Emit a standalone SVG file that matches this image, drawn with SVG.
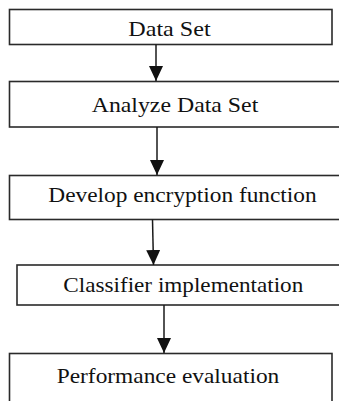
<svg xmlns="http://www.w3.org/2000/svg" width="339" height="401" viewBox="0 0 339 401">
<style>
.box{fill:#fff;stroke:#2a2a2a;stroke-width:1.6}
.lbl{font-family:"Liberation Serif","Times New Roman",serif;font-size:22px;fill:#111}
.conn{stroke:#1a1a1a;stroke-width:1.5;fill:none}
</style>
<defs>
<marker id="ah" markerUnits="userSpaceOnUse" markerWidth="15" markerHeight="14" viewBox="0 0 15 14" refX="15" refY="7" orient="auto">
<path d="M0,0 L15,7 L0,14 Z" fill="#111"/>
</marker>
</defs>
<rect width="339" height="401" fill="#fff"/>
<g id="n1">
<rect class="box" x="9.5" y="9.5" width="322.5" height="35"/>
<text class="lbl" x="128.3" y="36" textLength="82.4" lengthAdjust="spacingAndGlyphs">Data Set</text>
</g>
<g id="n2">
<rect class="box" x="9.5" y="81.5" width="340" height="45.5"/>
<text class="lbl" x="91.7" y="111.7" textLength="166.6" lengthAdjust="spacingAndGlyphs">Analyze Data Set</text>
</g>
<g id="n3">
<rect class="box" x="9.5" y="175.5" width="340" height="44"/>
<text class="lbl" x="48.3" y="201.7" textLength="268.4" lengthAdjust="spacingAndGlyphs">Develop encryption function</text>
</g>
<g id="n4">
<rect class="box" x="17" y="265" width="340" height="40"/>
<text class="lbl" x="63.3" y="292.3" textLength="240" lengthAdjust="spacingAndGlyphs">Classifier implementation</text>
</g>
<g id="n5">
<rect class="box" x="9.5" y="353.5" width="322.5" height="60"/>
<text class="lbl" x="56.7" y="383.3" textLength="222.6" lengthAdjust="spacingAndGlyphs">Performance evaluation</text>
</g>
<g id="connectors">
<line class="conn" x1="156" y1="44.5" x2="156" y2="81" marker-end="url(#ah)"/>
<line class="conn" x1="157" y1="127" x2="157" y2="175" marker-end="url(#ah)"/>
<line class="conn" x1="152.5" y1="219.5" x2="153.5" y2="265" marker-end="url(#ah)"/>
<line class="conn" x1="164" y1="305" x2="164" y2="353" marker-end="url(#ah)"/>
</g>
</svg>
